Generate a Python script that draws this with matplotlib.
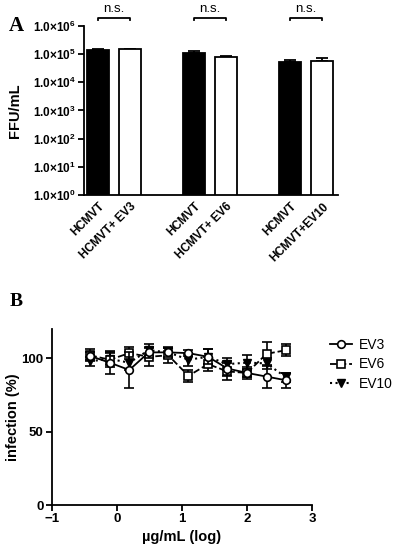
import numpy as np
import matplotlib
matplotlib.use('Agg')
import matplotlib.pyplot as plt
from matplotlib.ticker import FixedLocator, FuncFormatter
from matplotlib.lines import Line2D

plt.rcParams['font.family'] = ['Liberation Sans', 'DejaVu Sans']
plt.rcParams['mathtext.fontset'] = 'custom'
plt.rcParams['mathtext.rm'] = 'Liberation Sans:bold'
plt.rcParams['mathtext.bf'] = 'Liberation Sans:bold'
plt.rcParams['mathtext.default'] = 'bf'

# panel A data
bar_labels = ['HCMVT', 'HCMVT+ EV3', 'HCMVT', 'HCMVT+ EV6', 'HCMVT', 'HCMVT+EV10']
bar_values = [1.40e5, 1.50e5, 1.08e5, 8.0e4, 5.4e4, 5.8e4]
bar_err = [1.5e4, 5e3, 1.8e4, 4e3, 8e3, 1.6e4]
bar_colors = ['black', 'white', 'black', 'white', 'black', 'white']
bar_pos = [0, 1, 3, 4, 6, 7]

# panel B data
conc_log = [-0.41, -0.11, 0.19, 0.49, 0.79, 1.10, 1.40, 1.70, 2.00, 2.30, 2.60]
ev3 = [101.5, 97, 92, 104, 104, 103.5, 101, 93, 90, 87.5, 85]
ev3_err = [3, 8, 12, 4, 3, 2, 5, 5, 4, 8, 5]
ev6 = [102, 99, 103.5, 101, 102, 88, 96, 91, 90, 103, 105.5]
ev6_err = [4, 5, 4, 6, 5, 4, 5, 6, 3, 8, 4]
ev10 = [98, 99.5, 97, 105.5, 104, 99, 101, 96, 97, 96.5, 87]
ev10_err = [3, 4, 5, 4, 4, 4, 5, 4, 5, 4, 3]

fig = plt.figure(figsize=(3.96, 5.5), dpi=100)

# ---- panel A ----
ax1 = fig.add_axes([0.212, 0.6455, 0.642, 0.3075])
ax1.bar(bar_pos, bar_values, width=0.69, color=bar_colors, edgecolor='black',
        linewidth=1.3, log=True, zorder=2)
ax1.errorbar(bar_pos, bar_values, yerr=[np.zeros(6), bar_err], fmt='none',
             ecolor='black', elinewidth=1.3, capsize=4, capthick=1.3, zorder=1)
ax1.set_yscale('log')
ax1.set_ylim(1, 1e6)
ax1.set_xlim(-0.44, 7.5)
ax1.yaxis.set_major_locator(FixedLocator([10.0 ** k for k in range(7)]))
ax1.yaxis.set_minor_locator(FixedLocator([]))
ax1.yaxis.set_major_formatter(FuncFormatter(
    lambda v, p: r'$1.0{\times}10^{%d}$' % int(round(np.log10(v)))))
ax1.set_xticks(bar_pos)
ax1.set_xticklabels(bar_labels, rotation=45, ha='right', rotation_mode='anchor',
                    fontsize=8.5, fontweight='bold')
ax1.tick_params(axis='x', length=0, pad=4)
ax1.tick_params(axis='y', length=4, width=1.3, labelsize=8.5, pad=2)
for s in ['top', 'right']:
    ax1.spines[s].set_visible(False)
for s in ['left', 'bottom']:
    ax1.spines[s].set_linewidth(1.3)
ax1.set_ylabel('FFU/mL', fontsize=10.5, fontweight='bold', labelpad=8)

# n.s. brackets
for i in range(3):
    x0, x1 = bar_pos[2 * i], bar_pos[2 * i + 1]
    ax1.plot([x0, x0, x1, x1], [1.6e6, 1.9e6, 1.9e6, 1.6e6], color='black',
             lw=1.3, clip_on=False)
    ax1.text((x0 + x1) / 2, 2.4e6, 'n.s.', ha='center', va='bottom', fontsize=9.5)

fig.text(0.022, 0.953, 'A', fontsize=15, fontweight='bold',
         family='Liberation Serif', va='center')
fig.text(0.025, 0.452, 'B', fontsize=14, fontweight='bold',
         family='Liberation Serif', va='center')

# ---- panel B ----
ax2 = fig.add_axes([0.131, 0.0818, 0.657, 0.3202])
ax2.errorbar(conc_log, ev3, yerr=ev3_err, fmt='-o', color='black', mfc='white',
             ms=5.5, mew=1.2, lw=1.3, capsize=3.5, elinewidth=1.2, capthick=1.2, zorder=3)
ax2.errorbar(conc_log, ev6, yerr=ev6_err, fmt='--s', color='black', mfc='white',
             ms=5.5, mew=1.2, lw=1.3, capsize=3.5, elinewidth=1.2, capthick=1.2, zorder=2)
ax2.errorbar(conc_log, ev10, yerr=ev10_err, fmt=':v', color='black',
             ms=5.5, lw=1.5, capsize=3.5, elinewidth=1.2, capthick=1.2, zorder=1)
ax2.set_xlim(-1, 3)
ax2.set_ylim(0, 120)
ax2.set_xticks([-1, 0, 1, 2, 3])
ax2.set_yticks([0, 50, 100])
ax2.tick_params(length=4, width=1.3, labelsize=9.5, pad=2)
for lab in ax2.get_xticklabels() + ax2.get_yticklabels():
    lab.set_fontweight('bold')
for s in ['top', 'right']:
    ax2.spines[s].set_visible(False)
for s in ['left', 'bottom']:
    ax2.spines[s].set_linewidth(1.3)
ax2.set_xlabel('µg/mL (log)', fontsize=10.5, fontweight='bold', labelpad=3)
ax2.set_ylabel('infection (%)', fontsize=10.5, fontweight='bold', labelpad=1)

handles = [
    Line2D([], [], color='black', ls='-', marker='o', mfc='white', ms=5.5, mew=1.2, lw=1.3),
    Line2D([], [], color='black', ls='--', marker='s', mfc='white', ms=5.5, mew=1.2, lw=1.3),
    Line2D([], [], color='black', ls=':', marker='v', ms=5.5, lw=1.5),
]
ax2.legend(handles, ['EV3', 'EV6', 'EV10'], loc='upper left',
           bbox_to_anchor=(1.02, 1.02), frameon=False, fontsize=10,
           handlelength=1.6, handletextpad=0.5, labelspacing=0.4)

fig.savefig('out.png', dpi=100)
